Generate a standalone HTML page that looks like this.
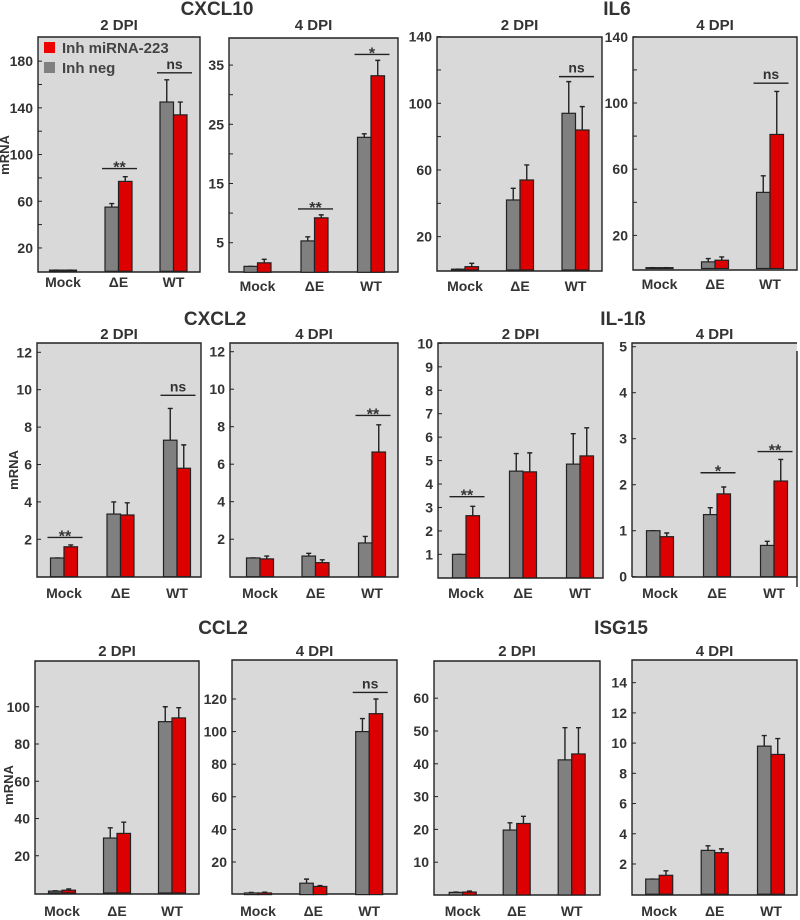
<!DOCTYPE html>
<html><head><meta charset="utf-8"><style>
html,body{margin:0;padding:0;background:#fff;}
svg{display:block;font-family:"Liberation Sans",Arial,sans-serif;font-weight:bold;fill:#333;}
</style></head><body>
<svg id="chart" width="800" height="920" viewBox="0 0 800 920" xmlns="http://www.w3.org/2000/svg"></svg>
<script>
const categories = ["Mock", "\u0394E", "WT"];
// CXCL10
const cxcl10_2dpi_neg = [1, 55, 145];
const cxcl10_2dpi_inh = [1, 77, 134];
const cxcl10_2dpi_negErr = [1, 58, 164];
const cxcl10_2dpi_inhErr = [1, 81, 145];
const cxcl10_4dpi_neg = [1.0, 5.3, 22.8];
const cxcl10_4dpi_inh = [1.6, 9.2, 33.2];
const cxcl10_4dpi_negErr = [1.0, 6.0, 23.4];
const cxcl10_4dpi_inhErr = [2.2, 9.7, 35.8];
// IL6
const il6_2dpi_neg = [0.5, 42, 94];
const il6_2dpi_inh = [2, 54, 84];
const il6_2dpi_negErr = [0.5, 49, 113];
const il6_2dpi_inhErr = [4, 63, 98];
const il6_4dpi_neg = [0.5, 4, 46];
const il6_4dpi_inh = [0.5, 5, 81];
const il6_4dpi_negErr = [0.5, 6, 56];
const il6_4dpi_inhErr = [0.5, 7, 107];
// CXCL2
const cxcl2_2dpi_neg = [1.0, 3.35, 7.3];
const cxcl2_2dpi_inh = [1.6, 3.3, 5.8];
const cxcl2_2dpi_negErr = [1.0, 4.0, 9.0];
const cxcl2_2dpi_inhErr = [1.7, 3.95, 7.05];
const cxcl2_4dpi_neg = [1.0, 1.1, 1.8];
const cxcl2_4dpi_inh = [0.95, 0.75, 6.65];
const cxcl2_4dpi_negErr = [1.0, 1.25, 2.15];
const cxcl2_4dpi_inhErr = [1.1, 0.9, 8.1];
// IL-1b
const il1b_2dpi_neg = [1.0, 4.55, 4.85];
const il1b_2dpi_inh = [2.65, 4.52, 5.2];
const il1b_2dpi_negErr = [1.0, 5.3, 6.15];
const il1b_2dpi_inhErr = [3.05, 5.33, 6.4];
const il1b_4dpi_neg = [1.0, 1.35, 0.68];
const il1b_4dpi_inh = [0.87, 1.8, 2.08];
const il1b_4dpi_negErr = [1.0, 1.5, 0.77];
const il1b_4dpi_inhErr = [0.95, 1.95, 2.55];
// CCL2
const ccl2_2dpi_neg = [1.0, 29.5, 92];
const ccl2_2dpi_inh = [1.5, 32, 94];
const ccl2_2dpi_negErr = [1.2, 35, 100];
const ccl2_2dpi_inhErr = [2.2, 38, 99.5];
const ccl2_4dpi_neg = [1, 7, 100];
const ccl2_4dpi_inh = [1, 5, 111];
const ccl2_4dpi_negErr = [1.3, 9.5, 108];
const ccl2_4dpi_inhErr = [1.5, 5.5, 120];
// ISG15
const isg15_2dpi_neg = [0.8, 19.8, 41.2];
const isg15_2dpi_inh = [0.9, 21.8, 43];
const isg15_2dpi_negErr = [0.9, 22, 51];
const isg15_2dpi_inhErr = [1.2, 24, 51];
const isg15_4dpi_neg = [1.0, 2.9, 9.8];
const isg15_4dpi_inh = [1.25, 2.75, 9.25];
const isg15_4dpi_negErr = [1.0, 3.2, 10.5];
const isg15_4dpi_inhErr = [1.55, 3.0, 10.3];
// tick values
const ticks_cxcl10_2 = [20, 40, 60, 80, 100, 120, 140, 160, 180];
const labels_cxcl10_2 = [20, 60, 100, 140, 180];
const ticks_cxcl10_4 = [5, 10, 15, 20, 25, 30, 35];
const labels_cxcl10_4 = [5, 15, 25, 35];
const ticks_il6 = [20, 40, 60, 80, 100, 120, 140];
const labels_il6 = [20, 60, 100, 140];
const ticks_cxcl2 = [2, 4, 6, 8, 10, 12];
const labels_cxcl2 = [2, 4, 6, 8, 10, 12];
const ticks_il1b_2 = [1, 2, 3, 4, 5, 6, 7, 8, 9, 10];
const labels_il1b_2 = [1, 2, 3, 4, 5, 6, 7, 8, 9, 10];
const ticks_il1b_4 = [0, 1, 2, 3, 4, 5];
const labels_il1b_4 = [0, 1, 2, 3, 4, 5];
const ticks_ccl2_2 = [20, 40, 60, 80, 100];
const labels_ccl2_2 = [20, 40, 60, 80, 100];
const ticks_ccl2_4 = [20, 40, 60, 80, 100, 120];
const labels_ccl2_4 = [20, 40, 60, 80, 100, 120];
const ticks_isg15_2 = [10, 20, 30, 40, 50, 60];
const labels_isg15_2 = [10, 20, 30, 40, 50, 60];
const ticks_isg15_4 = [2, 4, 6, 8, 10, 12, 14];
const labels_isg15_4 = [2, 4, 6, 8, 10, 12, 14];
// significance: [groupIndex, value, text]
const sig_cxcl10_2 = [[1, 88, "**"], [2, 170, "ns"]];
const sig_cxcl10_4 = [[1, 10.7, "**"], [2, 36.8, "*"]];
const sig_il6_2 = [[2, 116, "ns"]];
const sig_il6_4 = [[2, 112, "ns"]];
const sig_cxcl2_2 = [[0, 2.1, "**"], [2, 9.7, "ns"]];
const sig_cxcl2_4 = [[2, 8.6, "**"]];
const sig_il1b_2 = [[0, 3.46, "**"]];
const sig_il1b_4 = [[1, 2.26, "*"], [2, 2.72, "**"]];
const sig_ccl2_2 = [];
const sig_ccl2_4 = [[2, 124, "ns"]];
const sig_isg15_2 = [];
const sig_isg15_4 = [];

const NS = "http://www.w3.org/2000/svg";
const svg = document.getElementById("chart");
function mk(tag, attrs, parent, text) {
  const e = document.createElementNS(NS, tag);
  for (const k in attrs) e.setAttribute(k, attrs[k]);
  if (text !== undefined) e.textContent = text;
  (parent || svg).appendChild(e);
  return e;
}

const panels = [
  {id:"cxcl10-2dpi", x0:38, x1:200, y0:37, y1:272, zero:271.3, ppu:1.1675, centers:[63,118.5,173.5], labY:287, neg:cxcl10_2dpi_neg, inh:cxcl10_2dpi_inh, negE:cxcl10_2dpi_negErr, inhE:cxcl10_2dpi_inhErr, ticks:ticks_cxcl10_2, labels:labels_cxcl10_2, sig:sig_cxcl10_2, dpi:"2 DPI", dpiY:30},
  {id:"cxcl10-4dpi", x0:229, x1:398, y0:38, y1:272, zero:272.3, ppu:5.92, centers:[257.5,314.5,371], labY:291, neg:cxcl10_4dpi_neg, inh:cxcl10_4dpi_inh, negE:cxcl10_4dpi_negErr, inhE:cxcl10_4dpi_inhErr, ticks:ticks_cxcl10_4, labels:labels_cxcl10_4, sig:sig_cxcl10_4, dpi:"4 DPI", dpiY:30},
  {id:"il6-2dpi", x0:437, x1:602, y0:37, y1:271, zero:270, ppu:1.667, centers:[465,520,575.5], labY:291, neg:il6_2dpi_neg, inh:il6_2dpi_inh, negE:il6_2dpi_negErr, inhE:il6_2dpi_inhErr, ticks:ticks_il6, labels:labels_il6, sig:sig_il6_2, dpi:"2 DPI", dpiY:30},
  {id:"il6-4dpi", x0:633, x1:797, y0:37, y1:270, zero:268.5, ppu:1.655, centers:[659.5,715,770], labY:289, neg:il6_4dpi_neg, inh:il6_4dpi_inh, negE:il6_4dpi_negErr, inhE:il6_4dpi_inhErr, ticks:ticks_il6, labels:labels_il6, sig:sig_il6_4, dpi:"4 DPI", dpiY:30},
  {id:"cxcl2-2dpi", x0:37, x1:201, y0:343, y1:577, zero:576.7, ppu:18.7, centers:[64,120.5,177], labY:598, neg:cxcl2_2dpi_neg, inh:cxcl2_2dpi_inh, negE:cxcl2_2dpi_negErr, inhE:cxcl2_2dpi_inhErr, ticks:ticks_cxcl2, labels:labels_cxcl2, sig:sig_cxcl2_2, dpi:"2 DPI", dpiY:339},
  {id:"cxcl2-4dpi", x0:230, x1:398, y0:343, y1:577, zero:576.7, ppu:18.75, centers:[260,315.5,372], labY:598, neg:cxcl2_4dpi_neg, inh:cxcl2_4dpi_inh, negE:cxcl2_4dpi_negErr, inhE:cxcl2_4dpi_inhErr, ticks:ticks_cxcl2, labels:labels_cxcl2, sig:sig_cxcl2_4, dpi:"4 DPI", dpiY:339},
  {id:"il1b-2dpi", x0:438, x1:603, y0:343, y1:578, zero:577.8, ppu:23.44, centers:[466,523,580], labY:598, neg:il1b_2dpi_neg, inh:il1b_2dpi_inh, negE:il1b_2dpi_negErr, inhE:il1b_2dpi_inhErr, ticks:ticks_il1b_2, labels:labels_il1b_2, sig:sig_il1b_2, dpi:"2 DPI", dpiY:339},
  {id:"il1b-4dpi", x0:632, x1:797, y0:343, y1:577, zero:576.7, ppu:46, centers:[660,717,774], labY:598, neg:il1b_4dpi_neg, inh:il1b_4dpi_inh, negE:il1b_4dpi_negErr, inhE:il1b_4dpi_inhErr, ticks:ticks_il1b_4, labels:labels_il1b_4, sig:sig_il1b_4, dpi:"4 DPI", dpiY:339, openRight:true},
  {id:"ccl2-2dpi", x0:35, x1:199, y0:661, y1:894, zero:893, ppu:1.8625, centers:[62,117,172], labY:916, neg:ccl2_2dpi_neg, inh:ccl2_2dpi_inh, negE:ccl2_2dpi_negErr, inhE:ccl2_2dpi_inhErr, ticks:ticks_ccl2_2, labels:labels_ccl2_2, sig:sig_ccl2_2, dpi:"2 DPI", dpiY:656},
  {id:"ccl2-4dpi", x0:232, x1:397, y0:660, y1:894, zero:894.6, ppu:1.63, centers:[258,313.3,369.2], labY:916, neg:ccl2_4dpi_neg, inh:ccl2_4dpi_inh, negE:ccl2_4dpi_negErr, inhE:ccl2_4dpi_inhErr, ticks:ticks_ccl2_4, labels:labels_ccl2_4, sig:sig_ccl2_4, dpi:"4 DPI", dpiY:656},
  {id:"isg15-2dpi", x0:434, x1:600, y0:661, y1:895, zero:895, ppu:3.28, centers:[462.7,516.7,571.7], labY:916, neg:isg15_2dpi_neg, inh:isg15_2dpi_inh, negE:isg15_2dpi_negErr, inhE:isg15_2dpi_inhErr, ticks:ticks_isg15_2, labels:labels_isg15_2, sig:sig_isg15_2, dpi:"2 DPI", dpiY:656},
  {id:"isg15-4dpi", x0:632, x1:797, y0:660, y1:895, zero:894.2, ppu:15.11, centers:[659.2,714.7,771], labY:916, neg:isg15_4dpi_neg, inh:isg15_4dpi_inh, negE:isg15_4dpi_negErr, inhE:isg15_4dpi_inhErr, ticks:ticks_isg15_4, labels:labels_isg15_4, sig:sig_isg15_4, dpi:"4 DPI", dpiY:656}
];

const BW = 13.5;
panels.forEach(p => {
  const g = mk("g", {});
  
  
  const yS = v => p.zero - v * p.ppu;
  const bg = mk("rect", {x:p.x0, y:p.y0, width:p.x1-p.x0, height:p.y1-p.y0, fill:"#d9d9d9", stroke:"none"}, g);
  
  
  const frame = mk("path", {d: p.openRight
      ? `M${p.x0},${p.y1} L${p.x0},${p.y0} L${p.x1},${p.y0} M${p.x0},${p.y1} L${p.x1},${p.y1} M${p.x1},${p.y0+8} L${p.x1},${p.y1+10}`
      : `M${p.x0},${p.y0} H${p.x1} V${p.y1} H${p.x0} Z`, fill:"none", stroke:"#222", "stroke-width":1.4}, g);
  
  
  p.ticks.forEach(t => {
    const y = yS(t);
    const tk = mk("line", {x1:p.x0, x2:p.x0+4, y1:y, y2:y, stroke:"#222", "stroke-width":1}, g);
    
    
  });
  p.labels.forEach(t => {
    const tl = mk("text", {x:p.x0-5, y:yS(t)+5, "text-anchor":"end", "font-size":14}, g, String(t));
    
    
  });
  categories.forEach((c, i) => {
    const cx = p.centers[i];
    [[p.neg, p.negE, "#808080", cx-BW, "neg"], [p.inh, p.inhE, "#dd0000", cx, "inh"]].forEach(([vals, errs, col, bx, nm]) => {
      const yv = yS(vals[i]);
      const ye = yS(errs[i]);
      const err = mk("path", {d:`M${bx+BW/2},${yv} V${ye} M${bx+BW/2-2.5},${ye} H${bx+BW/2+2.5}`, stroke:"#222", "stroke-width":1.4, fill:"none"}, g);
      
      
      const r = mk("rect", {x:bx, y:yv, width:BW, height:Math.max(0.5, p.zero-yv), fill:col, stroke:"#222", "stroke-width":1.2}, g);
      
      
    });
    const cl = mk("text", {x:cx, y:p.labY, "text-anchor":"middle", "font-size":14}, g, c);
    
    
  });
  p.sig.forEach(s => {
    const cx = p.centers[s[0]];
    const y = yS(s[1]);
    const sl = mk("line", {x1:cx-BW-3, x2:cx+BW+5, y1:y, y2:y, stroke:"#222", "stroke-width":1.4}, g);
    
    
    const st = mk("text", {x:cx+1, y: s[2]==="ns" ? y-4 : y+4, "text-anchor":"middle", "font-size": s[2]==="ns" ? 14 : 16}, g, s[2]);
    
    
  });
  const dt = mk("text", {x:(p.x0+p.x1)/2, y:p.dpiY, "text-anchor":"middle", "font-size":15}, g, p.dpi);
  
  
});

const genes = [["CXCL10",217,15],["IL6",617,15],["CXCL2",215,325],["IL-1ß",623,325],["CCL2",223,634],["ISG15",621,634]];
genes.forEach(gn => {
  const t = mk("text", {x:gn[1], y:gn[2], "text-anchor":"middle", "font-size":19}, svg, gn[0]);
  
  
});
[[9,155],[18,470],[13,785]].forEach(m => {
  const t = mk("text", {x:m[0], y:m[1], "text-anchor":"middle", "font-size":13, transform:`rotate(-90 ${m[0]} ${m[1]})`}, svg, "mRNA");
  
  
});
const lg = mk("g", {});


const l1 = mk("rect", {x:44, y:42, width:11, height:11, fill:"#ee0000"}, lg);


const l1t = mk("text", {x:62, y:53, "font-size":15, fill:"#444"}, lg, "Inh miRNA-223");


const l2 = mk("rect", {x:44, y:62, width:11, height:11, fill:"#808080"}, lg);


const l2t = mk("text", {x:62, y:73, "font-size":15, fill:"#444"}, lg, "Inh neg");


</script>
</body></html>
